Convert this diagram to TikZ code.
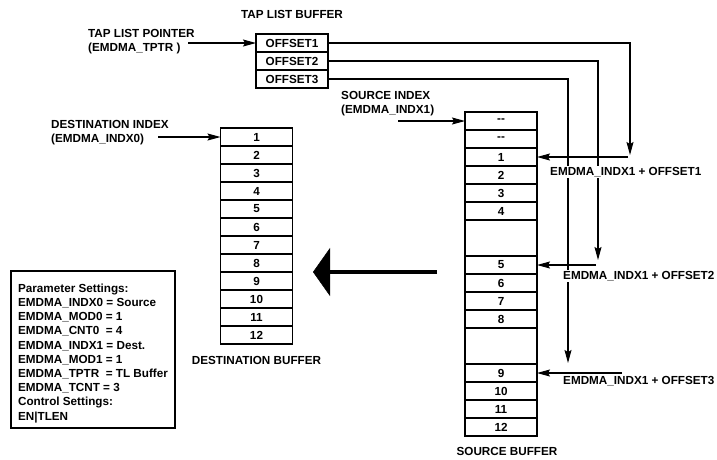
\documentclass[tikz,border=0pt]{standalone}
\usepackage{fontspec}
\setmainfont{Liberation Sans}
\usetikzlibrary{arrows.meta, positioning}

\begin{document}
\begin{tikzpicture}[x=1pt, y=-1pt, >={Stealth[length=13pt, width=7pt, inset=2pt]},
  font=\fontsize{11.7}{14.2}\selectfont\bfseries,
  cell/.style={draw, line width=1.2pt, minimum width=72pt, minimum height=18pt, inner sep=0pt, outer sep=0pt},
  frame/.style={draw, line width=1.8pt},
  lbl/.style={inner sep=1pt, align=left},
  wire/.style={line width=1.1pt}]
\useasboundingbox (0,0) rectangle (717,459);

% tap list buffer
\foreach \i in {1,2,3}
  \node[cell] (tap\i) at (292, {25+18*\i}) {OFFSET\i};
\draw[frame] (tap1.north west) rectangle (tap3.south east);
\node[lbl, above=14pt of tap1] (taptitle) {TAP LIST BUFFER};
\node[lbl, anchor=west] (tapptr) at (87,42) {TAP LIST POINTER\\(EMDMA\_TPTR )};
\coordinate (tapfrom) at (188,43);
\draw[wire, ->] (tapfrom) -- (tap1);

% source buffer
\foreach \n/\t/\r in {a/{-}{-}/0, b/{-}{-}/1, 1/1/2, 2/2/3, 3/3/4, 4/4/5,
    5/5/8, 6/6/9, 7/7/10, 8/8/11, 9/9/14, 10/10/15, 11/11/16, 12/12/17}
  \node[cell] (src\n) at (501, {121+18*\r}) {\t};
\draw[frame] (srca.north west) rectangle (src12.south east);
\node[lbl, below=10pt of src12, xshift=6pt] (srctitle) {SOURCE BUFFER};
\node[lbl, anchor=west] (srcidx) at (340,103.5) {SOURCE INDEX\\(EMDMA\_INDX1)};
\coordinate (srcfrom) at (398,121);
\draw[wire, ->] (srcfrom) -- (srca);

% destination buffer
\foreach \i in {1,...,12}
  \node[cell] (dst\i) at (256.5, {119+18*\i}) {\i};
\draw[frame] (dst1.north west) rectangle (dst12.south east);
\node[lbl, below=11pt of dst12] (dsttitle) {DESTINATION BUFFER};
\node[lbl, anchor=west] (dstidx) at (50,132.5) {DESTINATION INDEX\\(EMDMA\_INDX0)};
\coordinate (dstfrom) at (158,137);
\draw[wire, ->] (dstfrom) -- (dst1);

% offsets into the source buffer
\coordinate (drop1) at (630,155);
\coordinate (drop2) at (598,260);
\coordinate (drop3) at (568,363);
\coordinate (back1) at (628,0);
\coordinate (back2) at (596,0);
\coordinate (back3) at (622,0);
\draw[wire, ->] (tap1) -| (drop1);
\draw[wire, ->] (tap2) -| (drop2);
\draw[wire, ->] (tap3) -| (drop3);
\draw[wire, ->] (back1 |- src1) -- (src1);
\draw[wire, ->] (back2 |- src5) -- (src5);
\draw[wire, ->] (back3 |- src9) -- (src9);
\node[lbl, fill=white, anchor=west] (sum1) at (549,172) {EMDMA\_INDX1 + OFFSET1};
\node[lbl, fill=white, anchor=west] (sum2) at (562,276) {EMDMA\_INDX1 + OFFSET2};
\node[lbl, fill=white, anchor=west] (sum3) at (562,381) {EMDMA\_INDX1 + OFFSET3};

% transfer
\coordinate (flowR) at (437,272);
\coordinate (flowL) at (313,272);
\draw[line width=4pt, -{Triangle[length=17pt, width=48pt, line width=0.5pt]}] (flowR) -- (flowL);

\node[draw, line width=1.5pt, align=left, minimum width=164pt, minimum height=157pt, inner sep=0pt]
  (params) at (93,349.5) {\rule{0pt}{16pt}Parameter Settings:\\
  EMDMA\_INDX0 = Source\\
  EMDMA\_MOD0 = 1\\
  EMDMA\_CNT0\ \ = 4\\
  EMDMA\_INDX1 = Dest.\\
  EMDMA\_MOD1 = 1\\
  EMDMA\_TPTR\ \ = TL Buffer\\
  EMDMA\_TCNT = 3\\
  Control Settings:\\
  EN|TLEN};
\end{tikzpicture}
\end{document}
